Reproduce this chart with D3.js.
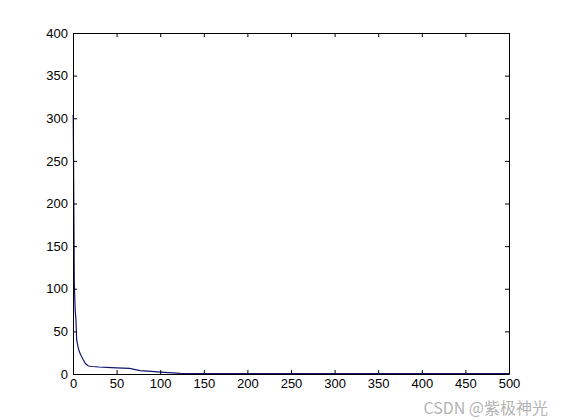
<!DOCTYPE html>
<meta charset="utf-8">
<script src="https://d3js.org/d3.v7.min.js"></script>
<style>
  body { margin: 0; background: #fff; }
</style>
<div id="chart"></div>
<script>

// values
var xVals = [0, 0.3, 1, 1.5, 2.5, 3.4, 4.2, 5.5, 7.3, 9.5, 11.9, 14.5, 17.6, 22, 30, 38.6, 50, 65, 70, 77, 90, 100, 110, 123, 140, 160, 200, 300, 400, 500];
var yVals = [304, 300, 190, 106, 75, 63, 40, 33, 26, 21, 16.4, 12, 9.4, 8.8, 8.2, 7.8, 7.2, 6.6, 5.5, 3.9, 3, 2.3, 1.6, 0.8, 0.6, 0.5, 0.5, 0.5, 0.5, 0.5];
var xTicks = [0, 50, 100, 150, 200, 250, 300, 350, 400, 450, 500];
var yTicks = [0, 50, 100, 150, 200, 250, 300, 350, 400];

var margin = {top: 33, right: 52, bottom: 46, left: 73},
    width = 561 - margin.left - margin.right,
    height = 420 - margin.top - margin.bottom;

var svg = d3.select("#chart")
    .append("svg")
    .attr("width", 561)
    .attr("height", 420)
    .style("font-family", "'Liberation Sans', Arial, sans-serif");

var g = svg.append("g")
    .attr("transform", `translate(${margin.left}, ${margin.top})`);

var x = d3.scaleLinear().domain([0, 500]).range([0, width]);
var y = d3.scaleLinear().domain([0, 400]).range([height, 0]);

// the curve
var line = d3.line()
    .x(function (d, i) { return x(xVals[i]); })
    .y(function (d) { return y(d); });

g.append("path")
    .datum(yVals)
    .attr("d", line)
    .attr("fill", "none")
    .attr("stroke", "#14146e")
    .attr("stroke-width", 1.2);

// axes, ticks pointing inward like matlab
function styleAxis(sel) {
  sel.select(".domain").attr("stroke", "#000");
  sel.selectAll(".tick line").attr("stroke", "#000");
  sel.selectAll(".tick text").style("font-size", "13px").attr("fill", "#000");
}

g.append("g")
  .attr("transform", `translate(0, ${height})`)
  .call(d3.axisBottom(x).tickValues(xTicks).tickSizeInner(-4).tickSizeOuter(0).tickPadding(5))
  .call(styleAxis);

g.append("g")
  .call(d3.axisLeft(y).tickValues(yTicks).tickSizeInner(-4).tickSizeOuter(0).tickPadding(5))
  .call(styleAxis);

g.append("g")
  .call(d3.axisTop(x).tickValues(xTicks).tickSizeInner(-4).tickSizeOuter(0).tickFormat(""))
  .call(styleAxis);

g.append("g")
  .attr("transform", `translate(${width}, 0)`)
  .call(d3.axisRight(y).tickValues(yTicks).tickSizeInner(-4).tickSizeOuter(0).tickFormat(""))
  .call(styleAxis);

// watermark
svg.append("text")
  .attr("x", 548)
  .attr("y", 414)
  .attr("text-anchor", "end")
  .style("font-size", "16px")
  .style("font-family", "'Noto Sans CJK SC', 'Liberation Sans', sans-serif")
  .attr("fill", "#b4b4b4")
  .text("CSDN @紫极神光");

</script>
